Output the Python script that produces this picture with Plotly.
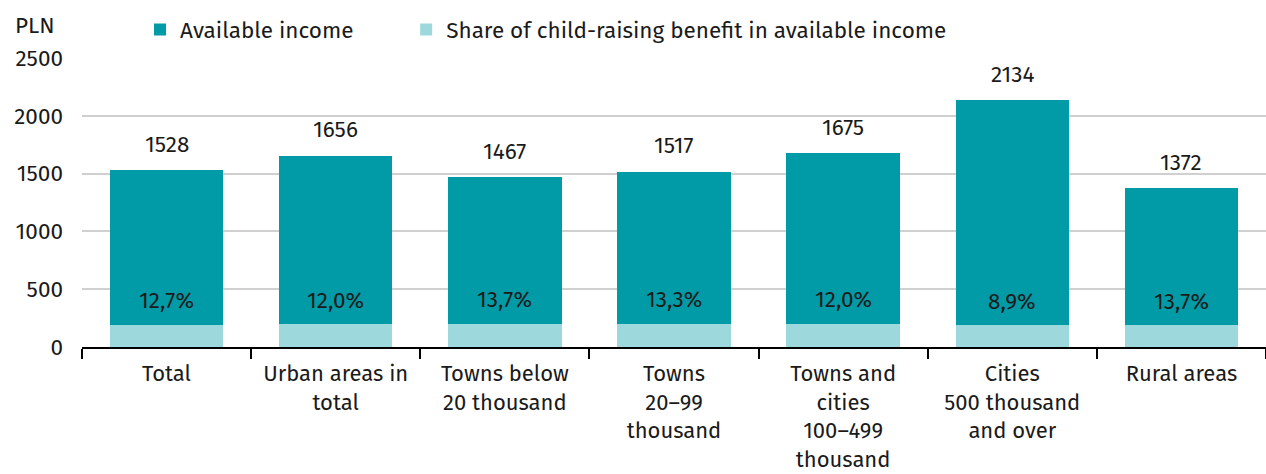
import plotly.graph_objects as go

# dane
categories = ["Total", "Urban areas in<br>total", "Towns below<br>20 thousand",
              "Towns<br>20–99<br>thousand", "Towns and<br>cities<br>100–499<br>thousand",
              "Cities<br>500 thousand<br>and over", "Rural areas"]
available_income = [1528, 1656, 1467, 1517, 1675, 2134, 1372]
benefit_share = [12.7, 12.0, 13.7, 13.3, 12.0, 8.9, 13.7]

DARK = "#009ba6"
LIGHT = "#9dd8dc"
TXT = "#1a1a1a"
FONT = "Fira Sans, Noto Sans, sans-serif"
FS = 22.5

benefit = [inc * s / 100 for inc, s in zip(available_income, benefit_share)]
rest = [inc - b for inc, b in zip(available_income, benefit)]

fig = go.Figure()
fig.add_trace(go.Bar(x=categories, y=benefit, name="Share of child-raising benefit in available income",
                     marker=dict(color=LIGHT, line=dict(width=0)), width=0.67, legend="legend2"))
fig.add_trace(go.Bar(x=categories, y=rest, name="Available income",
                     marker=dict(color=DARK, line=dict(width=0)), width=0.67, legend="legend"))

for c, inc, b, s in zip(categories, available_income, benefit, benefit_share):
    fig.add_annotation(x=c, y=inc, text=str(inc), showarrow=False, yanchor="middle", yshift=26,
                       font=dict(size=FS, color=TXT, family=FONT))
    fig.add_annotation(x=c, y=b, text=f"{s:.1f}%".replace(".", ","), showarrow=False,
                       yanchor="middle", yshift=24, font=dict(size=FS, color=TXT, family=FONT))

fig.add_annotation(xref="paper", yref="paper", x=-0.04, y=1.0, yshift=33, text="PLN",
                   showarrow=False, xanchor="center", yanchor="middle",
                   font=dict(size=FS, color=TXT, family=FONT))

leg = dict(orientation="h", y=1.097, yanchor="middle", xanchor="left",
           font=dict(size=FS, color=TXT, family=FONT), itemwidth=30, bgcolor="rgba(0,0,0,0)")

fig.update_layout(
    barmode="stack",
    width=1266, height=474,
    margin=dict(l=82, r=0, t=58, b=127, autoexpand=False),
    paper_bgcolor="white", plot_bgcolor="white",
    font=dict(family=FONT, size=FS, color=TXT),
    showlegend=True,
    legend=dict(leg, x=0.049),
    legend2=dict(leg, x=0.2738),
    yaxis=dict(range=[0, 2500], dtick=500, showgrid=True, gridcolor="#d0d0d0", gridwidth=1.5,
               zeroline=False, ticks="", tickfont=dict(size=FS, color=TXT), showline=False,
               automargin=False, ticklabelstandoff=18),
    xaxis=dict(showline=True, linecolor="black", linewidth=1.5, ticks="outside",
               tickson="boundaries", ticklen=10, tickcolor="black", tickwidth=1.5,
               tickfont=dict(size=22, color=TXT), automargin=False, ticklabelstandoff=6),
    bargap=0.33,
)

fig.write_html("out.html", config={"displayModeBar": False},
               post_script="document.body.style.margin='0';")
